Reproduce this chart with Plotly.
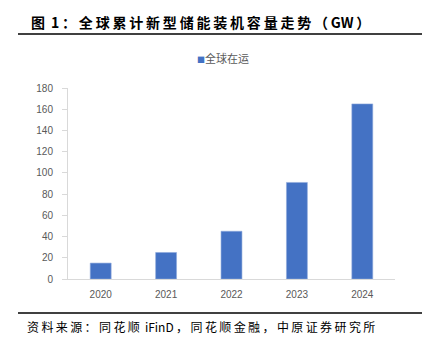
import plotly.graph_objects as go

years = ["2020", "2021", "2022", "2023", "2024"]
capacity_gw = [15, 25, 45, 91, 165]
series_name = "全球在运"
y_ticks = [0, 20, 40, 60, 80, 100, 120, 140, 160, 180]

title_text = "图 1：全球累计新型储能装机容量走势（GW）"
source_text = "资料来源：同花顺 iFinD，同花顺金融，中原证券研究所"

BAR_COLOR = "#4472C4"
W, H = 432, 346
L, R, T, B = 68, 37, 88, 67
plot_w = W - L - R
plot_h = H - T - B


def px_x(px):
    return (px - L) / plot_w


def px_y(py):
    return (H - B - py) / plot_h


def is_wide(ch):
    return ord(ch) > 0x2E80


def spaced(s, sep="\u2009"):
    # widen the tracking after full-width characters only; Latin runs stay tight
    out = []
    for i, ch in enumerate(s):
        out.append(ch)
        if i + 1 < len(s) and (is_wide(ch) or is_wide(s[i + 1])):
            out.append(sep)
    return "".join(out)


fig = go.Figure(
    go.Bar(
        x=years,
        y=capacity_gw,
        name=series_name,
        marker=dict(color=BAR_COLOR, line=dict(color="#8FAADC", width=0.6)),
        showlegend=False,
    )
)

tick_font = dict(family="Liberation Sans, Arial, sans-serif", size=10, color="#595959")

fig.update_layout(
    width=W,
    height=H,
    margin=dict(l=L, r=R, t=T, b=B),
    paper_bgcolor="white",
    plot_bgcolor="white",
    bargap=0.68,
    font=dict(family="Noto Sans CJK SC, Noto Sans, sans-serif", color="#595959", size=10),
    showlegend=False,
    xaxis=dict(
        showline=True,
        linecolor="#D9D9D9",
        linewidth=1,
        ticks="",
        showgrid=False,
        tickfont=tick_font,
        ticklabelstandoff=6,
        fixedrange=True,
    ),
    yaxis=dict(
        range=[0, 180],
        tickvals=y_ticks,
        showline=True,
        linecolor="#D9D9D9",
        linewidth=1,
        ticks="outside",
        ticklen=5,
        tickcolor="#D9D9D9",
        showgrid=False,
        zeroline=False,
        tickfont=tick_font,
        ticklabelstandoff=7,
        fixedrange=True,
    ),
)

# series key above the plot
fig.add_annotation(
    text=(
        f"<span style='color:{BAR_COLOR};font-size:8px'>■</span>"
        f"<span style='color:#595959'>{series_name}</span>"
    ),
    xref="paper", yref="paper",
    x=px_x(195), y=px_y(58),
    xanchor="left", yanchor="middle",
    showarrow=False,
    font=dict(family="Noto Sans CJK SC, sans-serif", size=11, color="#595959"),
)

# header title and rule
fig.add_annotation(
    text="<b>" + spaced(title_text) + "</b>",
    xref="paper", yref="paper",
    x=px_x(29), y=px_y(22),
    xanchor="left", yanchor="middle",
    showarrow=False,
    font=dict(family="Noto Sans CJK SC, sans-serif", size=14, color="#000000"),
)
fig.add_shape(
    type="line", xref="paper", yref="paper",
    x0=px_x(18), x1=px_x(422), y0=px_y(34), y1=px_y(34),
    line=dict(color="#000000", width=1.6),
)

# source footer and rule
fig.add_shape(
    type="line", xref="paper", yref="paper",
    x0=px_x(18), x1=px_x(422), y0=px_y(313), y1=px_y(313),
    line=dict(color="#000000", width=1.6),
)
fig.add_annotation(
    text=spaced(source_text),
    xref="paper", yref="paper",
    x=px_x(25), y=px_y(326),
    xanchor="left", yanchor="middle",
    showarrow=False,
    font=dict(family="Noto Sans CJK SC, sans-serif", size=12, color="#000000"),
)

fig.write_html("out.html", config={"displayModeBar": False})
